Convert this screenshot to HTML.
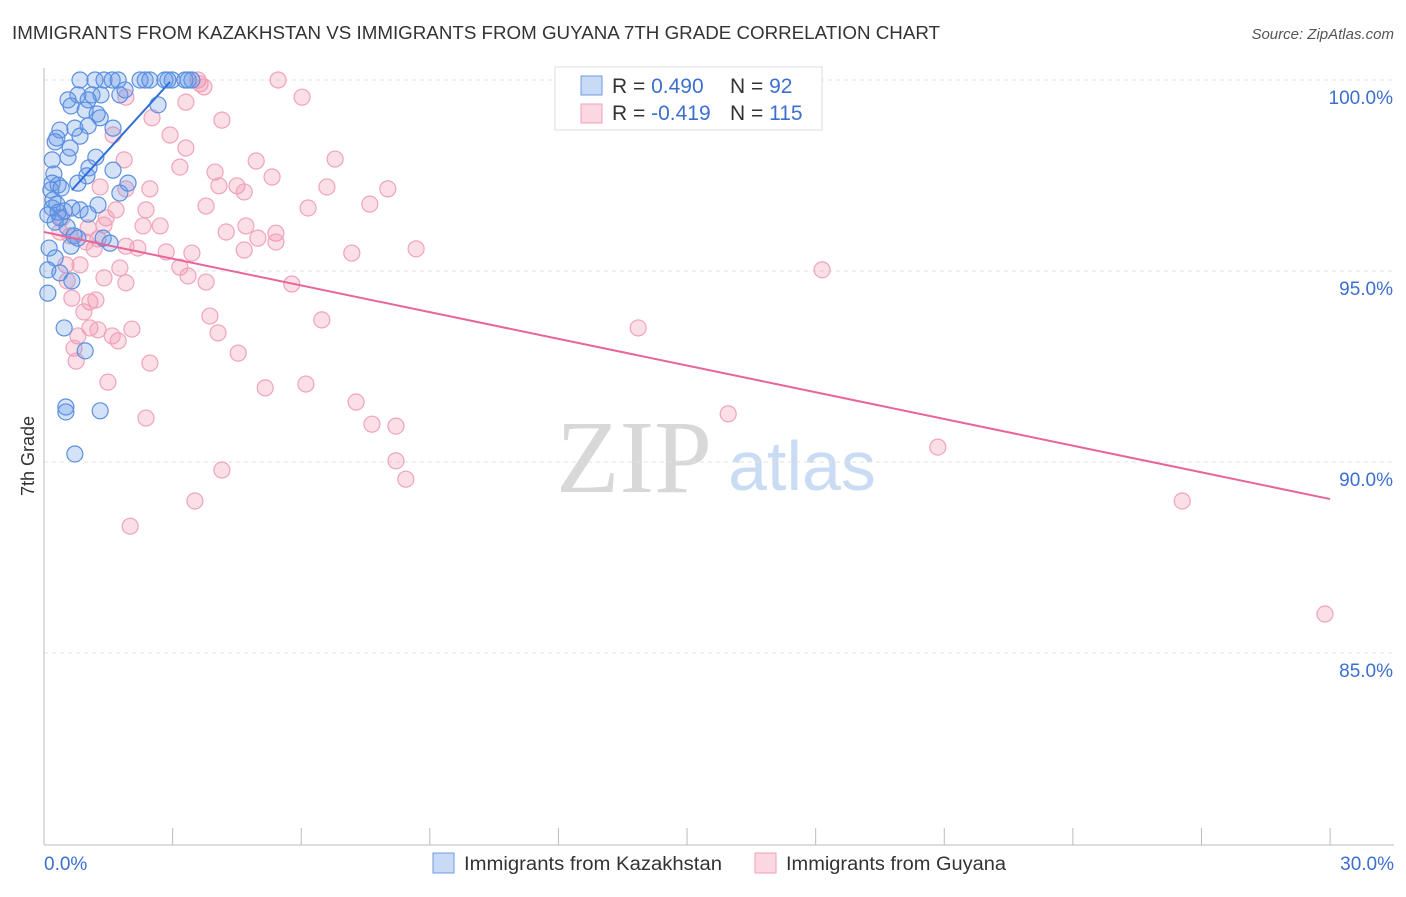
<!DOCTYPE html>
<html><head><meta charset="utf-8"><style>
body{margin:0;background:#fff;font-family:"Liberation Sans",sans-serif}
svg text{font-family:"Liberation Sans",sans-serif}
</style></head><body>
<svg id="chart" width="1406" height="892">
<text x="12" y="39" font-size="18" fill="#333" textLength="928" lengthAdjust="spacingAndGlyphs">IMMIGRANTS FROM KAZAKHSTAN VS IMMIGRANTS FROM GUYANA 7TH GRADE CORRELATION CHART</text>
<text x="1394" y="39" font-size="15" fill="#555" font-style="italic" text-anchor="end">Source: ZipAtlas.com</text>
<g>
<text x="634" y="492" font-size="104" fill="#d8d8d8" font-family="Liberation Serif" text-anchor="middle" style="font-family:'Liberation Serif',serif">ZIP</text>
<text x="802" y="490" font-size="70" fill="#c9dcf3" text-anchor="middle">atlas</text>
</g>
<g id="grid"></g><g id="axes"></g><g id="pts"></g><g id="trend"></g>
<text transform="translate(34,456) rotate(-90)" font-size="18" fill="#333" text-anchor="middle">7th Grade</text>
<g>
<rect x="555" y="67" width="267" height="63" fill="#fff" stroke="#ddd"/>
<rect x="581" y="76" width="21" height="19" fill="rgba(100,150,230,0.35)" stroke="#6a9be0"/>
<rect x="581" y="104" width="21" height="19" fill="rgba(240,140,170,0.35)" stroke="#f0a0b8"/>
<text x="612" y="93" font-size="21" fill="#333">R = <tspan fill="#3b6fd0">0.490</tspan></text>
<text x="730" y="93" font-size="21" fill="#333">N = <tspan fill="#3b6fd0"> 92</tspan></text>
<text x="612" y="120" font-size="21" fill="#333">R = <tspan fill="#3b6fd0">-0.419</tspan></text>
<text x="730" y="120" font-size="21" fill="#333">N = <tspan fill="#3b6fd0">115</tspan></text>
</g>
<g>
<rect x="433" y="853" width="21" height="20" fill="rgba(100,150,230,0.35)" stroke="#6a9be0"/>
<text x="464" y="870" font-size="19" fill="#333" textLength="258" lengthAdjust="spacingAndGlyphs">Immigrants from Kazakhstan</text>
<rect x="755" y="853" width="21" height="20" fill="rgba(240,140,170,0.35)" stroke="#f0a0b8"/>
<text x="786" y="870" font-size="19" fill="#333" textLength="220" lengthAdjust="spacingAndGlyphs">Immigrants from Guyana</text>
</g>
</svg>
<script>
const blueX=[0.84,1.19,1.40,1.59,1.73,2.24,2.36,2.82,2.99,3.29,3.45,0.79,1.12,1.33,1.77,1.89,0.56,1.03,0.63,0.96,1.24,1.31,0.37,0.72,1.03,1.61,0.30,0.84,0.26,0.61,0.56,1.21,0.19,1.05,1.61,0.23,1.00,1.96,0.19,0.33,0.79,1.77,0.16,0.40,0.30,0.65,0.84,1.26,0.19,0.47,1.03,0.09,0.37,0.26,0.54,0.70,0.79,1.38,1.54,0.12,0.63,0.26,0.09,0.37,0.65,0.09,0.47,0.96,0.51,1.31,0.51,0.72,2.66,2.89,3.36,2.47,0.21,0.33];
const blueY=[100,100,100,100,100,100,100,100,100,100,100,99.61,99.61,99.61,99.61,99.74,99.48,99.48,99.32,99.21,99.11,99.01,98.69,98.74,98.80,98.74,98.48,98.53,98.38,98.22,97.98,97.98,97.91,97.70,97.64,97.54,97.49,97.30,97.30,97.25,97.30,97.04,97.12,97.17,96.75,96.65,96.60,96.73,96.65,96.57,96.49,96.47,96.39,96.28,96.15,95.92,95.86,95.86,95.73,95.60,95.65,95.34,95.03,94.95,94.74,94.42,93.51,92.91,91.44,91.34,91.31,90.21,99.35,100,100,100,96.86,96.54];
const pinkX=[5.46,3.59,3.64,3.73,1.91,6.02,3.31,2.52,4.15,1.61,2.94,3.31,6.79,1.87,4.95,3.99,3.17,5.32,6.60,8.02,1.31,1.91,4.50,4.08,4.67,2.47,3.78,6.16,7.60,2.38,1.68,1.45,4.25,4.71,5.41,4.99,5.41,2.31,1.26,0.37,1.91,2.19,2.85,3.45,4.67,7.18,8.68,1.17,0.98,0.61,0.51,0.84,1.77,3.17,3.36,3.78,1.91,1.40,0.54,5.78,0.65,1.07,1.21,0.93,3.87,6.48,4.06,2.05,1.07,1.26,1.73,0.79,1.59,0.70,4.53,2.47,0.75,1.49,5.16,6.11,7.28,2.38,7.65,8.21,8.21,8.44,4.15,3.52,2.01,18.15,13.86,15.96,20.85,26.55,29.88,1.40,0.42,2.71,1.03];
const pinkY=[100,100,99.90,99.82,99.55,99.55,99.42,99.01,98.95,98.56,98.56,98.22,97.93,97.91,97.88,97.59,97.72,97.46,97.20,97.15,97.20,97.15,97.23,97.23,97.07,97.15,96.70,96.65,96.75,96.60,96.60,96.39,96.02,96.18,95.99,95.86,95.76,96.18,95.84,96.02,95.65,95.60,95.50,95.47,95.55,95.47,95.58,95.58,95.76,95.92,95.16,95.16,95.08,95.10,94.87,94.71,94.69,94.82,94.74,94.66,94.29,94.19,94.24,93.93,93.82,93.72,93.38,93.48,93.51,93.46,93.17,93.30,93.30,92.98,92.85,92.59,92.64,92.09,91.94,92.04,91.57,91.15,90.99,90.94,90.03,89.55,89.79,88.98,88.32,95.03,93.51,91.26,90.39,88.98,86.02,96.20,96.39,96.18,96.13];
const blueTrendX=[0.65,2.94], blueTrendY=[97.12,99.95];
const pinkTrendX=[0,30], pinkTrendY=[96.02,89.03];
const yTicks=[100,95,90,85];
const yTickLabels=["100.0%","95.0%","90.0%","85.0%"];
const xTicks=[0,3,6,9,12,15,18,21,24,27,30];
const NS="http://www.w3.org/2000/svg";
const sx=v=>44+v*42.87, sy=v=>80+(100-v)*38.2;
function mk(tag,attrs,parent){const e=document.createElementNS(NS,tag);for(const k in attrs)e.setAttribute(k,attrs[k]);parent.appendChild(e);return e;}
const grid=document.getElementById('grid'),axes=document.getElementById('axes'),pts=document.getElementById('pts'),trend=document.getElementById('trend');
yTicks.forEach((t,i)=>{
 const l=mk('line',{x1:44,x2:1394,y1:sy(t),y2:sy(t),stroke:'#e2e2e2','stroke-dasharray':'4,4'},grid);
 
 
 const tx=mk('text',{x:1393,y:sy(t)+24,'font-size':19,fill:'#3b6fd0','text-anchor':'end'},axes);
 tx.textContent=yTickLabels[i];
 
 
});
const ya=mk('line',{x1:44,x2:44,y1:68,y2:845,stroke:'#bbb'},axes);


const xa=mk('line',{x1:44,x2:1394,y1:845,y2:845,stroke:'#bbb'},axes);


xTicks.forEach(t=>{
 const l=mk('line',{x1:sx(t),x2:sx(t),y1:828,y2:845,stroke:'#bbb'},axes);
 
 
});
const x0=mk('text',{x:44,y:870,'font-size':19,fill:'#3b6fd0'},axes);x0.textContent=xTicks[0].toFixed(1)+'%';


const x1=mk('text',{x:1394,y:870,'font-size':19,fill:'#3b6fd0','text-anchor':'end'},axes);x1.textContent=xTicks[xTicks.length-1].toFixed(1)+'%';


pinkX.forEach((v,i)=>{
 const c=mk('circle',{cx:sx(v),cy:sy(pinkY[i]),r:8,fill:'rgba(240,140,170,0.28)',stroke:'#f0a3bb','stroke-width':1.2},pts);
 
 
});
blueX.forEach((v,i)=>{
 const c=mk('circle',{cx:sx(v),cy:sy(blueY[i]),r:8,fill:'rgba(100,150,230,0.28)',stroke:'#5b8fe0','stroke-width':1.2},pts);
 
 
});
const pt=mk('line',{x1:sx(pinkTrendX[0]),y1:sy(pinkTrendY[0]),x2:sx(pinkTrendX[1]),y2:sy(pinkTrendY[1]),stroke:'#e8659a','stroke-width':2},trend);


const bt=mk('line',{x1:sx(blueTrendX[0]),y1:sy(blueTrendY[0]),x2:sx(blueTrendX[1]),y2:sy(blueTrendY[1]),stroke:'#2f6fd6','stroke-width':2},trend);


</script>
</body></html>
